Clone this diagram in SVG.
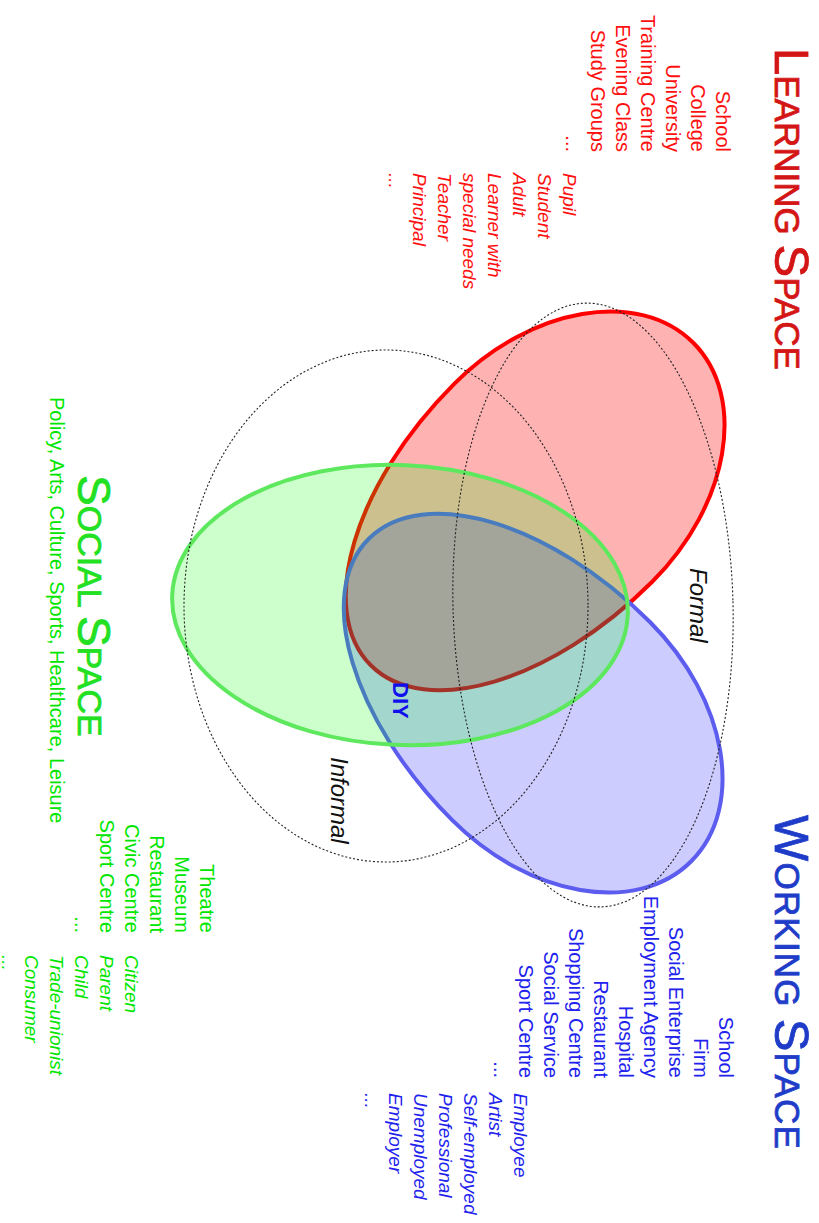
<svg xmlns="http://www.w3.org/2000/svg" width="819" height="1223" viewBox="0 0 819 1223">
<style>
text{font-family:"Liberation Sans",Arial,sans-serif}
.l{font-size:20px}
.i{font-size:19px;font-style:italic}
.e{text-anchor:end}
.r{fill:#ff1010}
.b{fill:#2222ee}
.g{fill:#00e600}
.dash{fill:none;stroke:#222;stroke-width:1.1;stroke-dasharray:2 2}
.big{font-size:49px}
.sc{font-size:35px}
.title{stroke-width:0.8}
.lab{font-size:24px;font-style:italic;fill:#111}
</style>
<defs>
 <path id="egg" d="M -228,0 C -228,-77 -112,-140 30,-140 C 139,-140 228,-77 228,0 C 228,77 139,140 30,140 C -112,140 -228,77 -228,0 Z"/>
</defs>
<rect width="819" height="1223" fill="#fff"/>
<g id="sets">
 <g id="learning-set"><use href="#egg" transform="translate(532 504) rotate(-45)" fill="#ff0000" fill-opacity="0.3" stroke="#ff0000" stroke-width="4"/></g>
 <g id="working-set"><use href="#egg" transform="translate(530 700) rotate(45)" fill="#0000ff" fill-opacity="0.2" stroke="#5c5cee" stroke-width="4"/></g>
 <g id="social-set"><ellipse cx="400" cy="605" rx="228" ry="140" transform="rotate(2.5 400 605)" fill="#00ff00" fill-opacity="0.2" stroke="#5ee85e" stroke-width="4"/></g>
</g>
<g id="boundaries">
 <ellipse id="formal-boundary" cx="593" cy="605" rx="140" ry="302" transform="rotate(-1.5 593 605)" class="dash"/>
 <ellipse id="informal-boundary" cx="386" cy="606" rx="202" ry="256" class="dash"/>
</g>
<g id="connectors"></g>
<g id="texts" transform="rotate(90) translate(0,-819)">
 <g id="learning-space">
  <text class="title" x="48" y="44" fill="#d41515" stroke="#d41515"><tspan class="big">L</tspan><tspan class="sc">EARNING </tspan><tspan class="big">S</tspan><tspan class="sc">PACE</tspan></text>
  <text class="l r e" x="152" y="103">School</text>
  <text class="l r e" x="152" y="128">College</text>
  <text class="l r e" x="152" y="153">University</text>
  <text class="l r e" x="152" y="178">Training Centre</text>
  <text class="l r e" x="152" y="203">Evening Class</text>
  <text class="l r e" x="152" y="228">Study Groups</text>
  <text class="l r e" x="152" y="253">...</text>
  <text class="i r" x="173" y="256">Pupil</text>
  <text class="i r" x="173" y="281">Student</text>
  <text class="i r" x="173" y="306">Adult</text>
  <text class="i r" x="173" y="331">Learner with</text>
  <text class="i r" x="173" y="356">special needs</text>
  <text class="i r" x="173" y="381">Teacher</text>
  <text class="i r" x="173" y="406">Principal</text>
  <text class="i r" x="173" y="430">...</text>
 </g>
 <g id="working-space">
  <text class="title" x="815" y="44" fill="#1e3cc8" stroke="#1e3cc8" letter-spacing="1.2"><tspan class="big">W</tspan><tspan class="sc">ORKING </tspan><tspan class="big">S</tspan><tspan class="sc">PACE</tspan></text>
  <text class="l b e" x="1078" y="100">School</text>
  <text class="l b e" x="1078" y="125">Firm</text>
  <text class="l b e" x="1078" y="150">Social Enterprise</text>
  <text class="l b e" x="1078" y="175">Employment Agency</text>
  <text class="l b e" x="1078" y="200">Hospital</text>
  <text class="l b e" x="1078" y="225">Restaurant</text>
  <text class="l b e" x="1078" y="250">Shopping Centre</text>
  <text class="l b e" x="1078" y="275">Social Service</text>
  <text class="l b e" x="1078" y="300">Sport Centre</text>
  <text class="l b e" x="1078" y="325">...</text>
  <text class="i b" x="1093" y="305">Employee</text>
  <text class="i b" x="1093" y="330">Artist</text>
  <text class="i b" x="1093" y="355">Self-employed</text>
  <text class="i b" x="1093" y="380">Professional</text>
  <text class="i b" x="1093" y="405">Unemployed</text>
  <text class="i b" x="1093" y="430">Employer</text>
  <text class="i b" x="1093" y="454">...</text>
 </g>
 <g id="social-space">
  <text class="title" x="475" y="741" fill="#22e022" stroke="#22e022"><tspan font-size="46">S</tspan><tspan font-size="34">OCIAL </tspan><tspan font-size="46">S</tspan><tspan font-size="34">PACE</tspan></text>
  <text class="l g" x="397" y="769">Policy, Arts, Culture, Sports, Healthcare, Leisure</text>
  <text class="l g e" x="933" y="619">Theatre</text>
  <text class="l g e" x="933" y="644">Museum</text>
  <text class="l g e" x="933" y="669">Restaurant</text>
  <text class="l g e" x="933" y="694">Civic Centre</text>
  <text class="l g e" x="933" y="719">Sport Centre</text>
  <text class="l g e" x="933" y="744">...</text>
  <text class="i g" x="955" y="694">Citizen</text>
  <text class="i g" x="955" y="719">Parent</text>
  <text class="i g" x="955" y="744">Child</text>
  <text class="i g" x="955" y="769">Trade-unionist</text>
  <text class="i g" x="955" y="794">Consumer</text>
  <text class="i g" x="955" y="817">...</text>
 </g>
 <g id="labels">
  <text id="formal" class="lab" x="568" y="129">Formal</text>
  <text id="informal" class="lab" x="757" y="488">Informal</text>
  <text id="diy" x="682" y="426" font-size="22" font-weight="bold" fill="#1010ee">DIY</text>
 </g>
</g>
</svg>
